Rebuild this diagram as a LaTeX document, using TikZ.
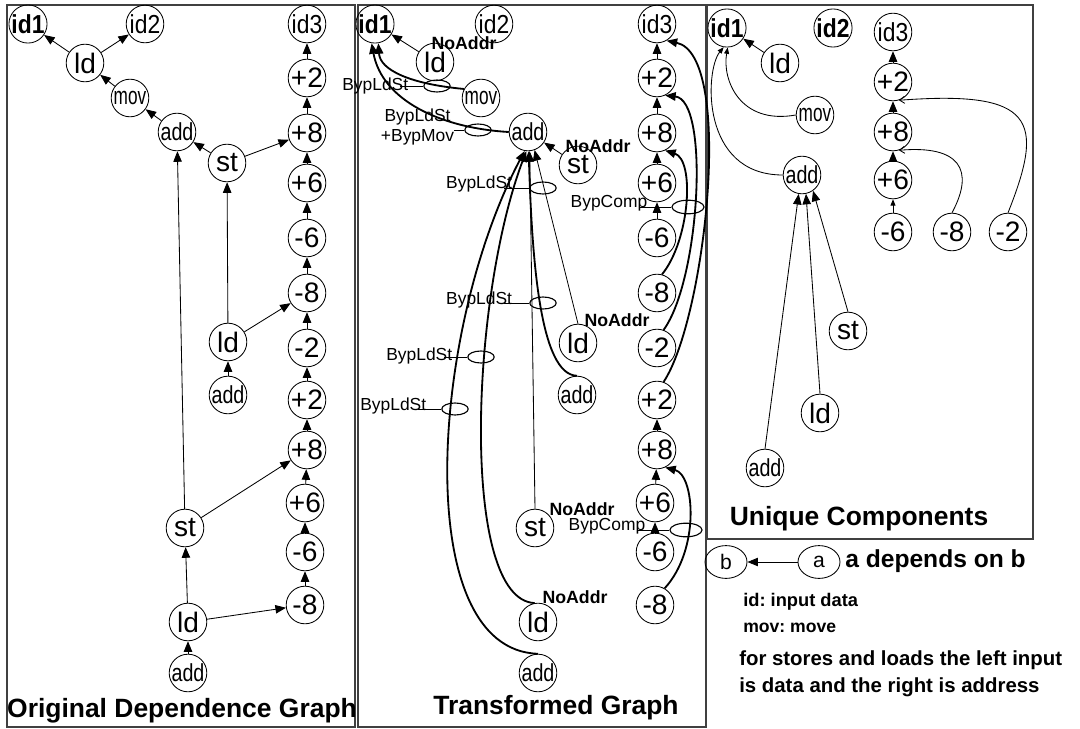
\documentclass[tikz,border=0pt]{standalone}
\usepackage{fontspec}
\setmainfont{Liberation Sans}
\newfontfamily\idfont[FakeStretch=0.88]{Liberation Sans}
\newfontfamily\narrowfont[FakeStretch=0.8]{Liberation Sans}
\newfontfamily\narrowerfont[FakeStretch=0.7]{Liberation Sans}
\usetikzlibrary{arrows.meta,positioning,shapes.geometric}
\frenchspacing

\begin{document}
\begin{tikzpicture}[
    x=0.025cm, y=-0.025cm,
    frame/.style={draw=black!75, line width=0.9pt},
    operation/.style={circle, draw, line width=0.6pt, minimum size=0.94cm, inner sep=0pt, font=\fontsize{20}{20}\selectfont},
    input/.style={operation, font=\idfont\fontsize{18.5}{18.5}\selectfont},
    addop/.style={operation, font=\narrowfont\fontsize{17.5}{17.5}\selectfont},
    movop/.style={operation, font=\narrowerfont\fontsize{17.5}{17.5}\selectfont},
    bypass/.style={ellipse, draw, line width=0.8pt, minimum width=0.66cm, minimum height=0.3cm, inner sep=0pt},
    compbypass/.style={bypass, minimum width=0.8cm, minimum height=0.34cm},
    byplabel/.style={font=\fontsize{12.4}{14}\selectfont, inner sep=0pt, align=center},
    noaddr/.style={font=\bfseries\fontsize{12.6}{13}\selectfont, inner sep=0pt},
    caption/.style={font=\bfseries\fontsize{18.8}{20}\selectfont, inner sep=0pt, anchor=base},
    note/.style={font=\bfseries\fontsize{14.5}{16}\selectfont, inner sep=0pt, anchor=base west},
    key/.style={ellipse, draw, line width=0.6pt, minimum width=1.05cm, minimum height=0.82cm, inner sep=0pt, font=\fontsize{15}{15}\selectfont},
    dep/.style={-{Triangle[length=7.5pt,width=6pt]}, line width=0.6pt},
    byp/.style={-{Triangle[length=7.5pt,width=6pt]}, line width=1.3pt},
    smalldep/.style={-{Triangle[length=4.5pt,width=3.5pt]}, line width=0.6pt},
    barb/.style={-{Straight Barb[length=3.5pt,width=5pt]}, line width=0.6pt}
]
    \useasboundingbox[fill=white] (0,0) rectangle (1080,729);

    % panels
    \draw[frame] (7,5) rectangle (355,727);
    \draw[frame] (358,5) rectangle (706,727);
    \draw[frame] (707,5) rectangle (1033,539);

    % original dependence graph
    \node[input] (oid1) at (28,24) {\textbf{id1}};
    \node[input] (oid2) at (145,24) {id2};
    \node[input] (oid3) at (307,24) {id3};
    \node[operation] (old) at (85,63) {ld};
    \node[movop] (omov) at (130,98) {mov};
    \node[addop] (oadd) at (177,132) {add};
    \node[operation] (ost) at (227,163) {st};
    \node[operation] (oldb) at (228,342) {ld};
    \node[addop] (oaddb) at (228,395) {add};
    \node[operation] (ostc) at (185,528) {st};
    \node[operation] (oldc) at (188,622) {ld};
    \node[addop] (oaddc) at (188,673) {add};
    \foreach \name/\val/\x/\y in {op2a/+2/307/78, op8a/+8/307/133, op6a/+6/307/183,
        om6a/-6/307/238, om8a/-8/307/293, om2/-2/307/348, op2b/+2/307/400,
        op8b/+8/307/450, op6b/+6/305/503, om6b/-6/305/552, om8b/-8/305/605}
        \node[operation] (\name) at (\x,\y) {\val};

    \foreach \a/\b in {old/oid1, old/oid2, omov/old, oadd/omov, ost/oadd, ost/op8a,
        oldb/ost, oldb/om8a, oaddb/oldb, ostc/oadd, ostc/op8b, oldc/ostc, oldc/om8b,
        oaddc/oldc, op2a/oid3, op8a/op2a, op6a/op8a, om6a/op6a, om8a/om6a, om2/om8a,
        op2b/om2, op8b/op2b, op6b/op8b, om6b/op6b, om8b/om6b}
        \draw[dep] (\a) -- (\b);

    \node[caption] (capo) at (182,717) {Original Dependence Graph};

    % transformed graph
    \node[input] (tid1) at (375,24) {\textbf{id1}};
    \node[input] (tid2) at (494,24) {id2};
    \node[input] (tid3) at (657,24) {id3};
    \node[operation] (tld) at (435,62) {ld};
    \node[movop] (tmov) at (481,98) {mov};
    \node[addop] (tadd) at (528,132) {add};
    \node[operation] (tst) at (578,165) {st};
    \node[operation] (tldb) at (578,343) {ld};
    \node[addop] (taddb) at (577,395) {add};
    \node[operation] (tstc) at (535,528) {st};
    \node[operation] (tldc) at (538,622) {ld};
    \node[addop] (taddc) at (538,673) {add};
    \foreach \name/\val/\x/\y in {tp2a/+2/657/78, tp8a/+8/657/133, tp6a/+6/657/183,
        tm6a/-6/657/238, tm8a/-8/657/293, tm2/-2/657/348, tp2b/+2/657/400,
        tp8b/+8/657/450, tp6b/+6/655/503, tm6b/-6/655/552, tm8b/-8/655/605}
        \node[operation] (\name) at (\x,\y) {\val};

    \node[noaddr] (na1) at (464,43) {NoAddr};
    \node[noaddr] (na2) at (598,146) {NoAddr};
    \node[noaddr] (na3) at (617,320) {NoAddr};
    \node[noaddr] (na4) at (582,509) {NoAddr};
    \node[noaddr] (na5) at (575,597) {NoAddr};

    \foreach \a/\b in {tld/tid1, tst/tadd, tp2a/tid3, tp8a/tp2a, tp6a/tp8a, tm6a/tp6a,
        tp8b/tp2b, tp6b/tp8b, tm6b/tp6b}
        \draw[dep] (\a) -- (\b);

    % bypassed edges
    \draw[byp] (tmov.152) .. controls (410,84) and (380,70) .. (tid1.-80);
    \draw[byp] (tadd.west) .. controls (440,128) and (382,100) .. (tid1.-100);
    \draw[byp] (taddc.north) .. controls (410,650) and (430,330) .. (tadd.-100);
    \draw[byp] (tldc.100) .. controls (460,600) and (470,300) .. (tadd.-95);
    \draw[byp] (taddb.north) .. controls (540,375) and (532,260) .. (tadd.-88);
    \draw[dep] (tstc.north) -- (tadd.-85);
    \draw[dep] (tldb.north) -- (tadd.-70);
    \draw[byp] (tp2b.70) .. controls (705,320) and (735,55) .. (tid3.-60);
    \draw[byp] (tm2.70) .. controls (700,280) and (710,100) .. (tp2a.-65);
    \draw[byp] (tm8a.75) .. controls (690,240) and (695,160) .. (tp8a.-65);
    \draw[byp] (tm8b.60) .. controls (700,550) and (695,475) .. (tp8b.-65);

    \node[bypass] (b1) at (437,86) {};
    \node[bypass] (b2) at (478,130) {};
    \node[bypass] (b3) at (543,188) {};
    \node[bypass] (b4) at (543,303) {};
    \node[bypass] (b5) at (481,357) {};
    \node[bypass] (b6) at (455,409) {};
    \node[compbypass] (c1) at (688,207) {};
    \node[compbypass] (c2) at (686,530) {};

    \node[byplabel, left=10.5pt of b1] (l1) {BypLdSt};
    \node[byplabel, left=7pt of b2, yshift=2pt] (l2) {BypLdSt\\+BypMov};
    \node[byplabel, left=12pt of b3, yshift=3pt] (l3) {BypLdSt};
    \node[byplabel, left=12pt of b4, yshift=2pt] (l4) {BypLdSt};
    \node[byplabel, left=10.5pt of b5, yshift=1pt] (l5) {BypLdSt};
    \node[byplabel, left=10.5pt of b6, yshift=2pt] (l6) {BypLdSt};
    \node[byplabel, left=17pt of c1, yshift=3pt] (k1) {BypComp};
    \node[byplabel, left=17pt of c2, yshift=3pt] (k2) {BypComp};
    \foreach \l/\b in {l1/b1, l3/b3, l4/b4, l5/b5, l6/b6, k1/c1, k2/c2}
        \draw[line width=0.6pt] ([xshift=-6pt]\l.east |- \b.west) -- (\b.west);
    \draw[line width=0.6pt] (l2.east |- b2.west) -- (b2.west);

    \node[caption] (capt) at (556,714) {Transformed Graph};

    % unique components
    \node[input] (uid1) at (727,28) {\textbf{id1}};
    \node[input] (uid2) at (833,28) {\textbf{id2}};
    \node[input] (uid3) at (893,32) {id3};
    \node[operation] (uld) at (780,63) {ld};
    \node[movop] (umov) at (815,115) {mov};
    \node[addop] (uadd) at (802,175) {add};
    \node[operation] (up2) at (893,82) {+2};
    \node[operation] (up8) at (893,132) {+8};
    \node[operation] (up6) at (893,180) {+6};
    \node[operation] (um6) at (893,232) {-6};
    \node[operation] (um8) at (952,232) {-8};
    \node[operation] (um2) at (1008,232) {-2};
    \node[operation] (ust) at (848,331) {st};
    \node[operation] (uldb) at (820,413) {ld};
    \node[addop] (uaddb) at (765,468) {add};

    \foreach \a/\b in {uld/uid1, up2/uid3, up8/up2, up6/up8}
        \draw[dep] (\a) -- (\b);
    \draw[smalldep] (um6) -- (up6);
    \draw[smalldep] (umov.west) .. controls (740,125) and (722,80) .. (uid1.-88);
    \draw[smalldep] (uadd.west) .. controls (700,175) and (705,70) .. (uid1.-100);
    \draw[dep] (uaddb.north) -- (uadd.-100);
    \draw[dep] (uldb.north) -- (uadd.-78);
    \draw[dep] (ust.north) -- (uadd.-55);
    \draw[barb] (um8.north) .. controls (975,170) and (960,145) .. (up8.-72);
    \draw[barb] (um2.north) .. controls (1045,120) and (1035,90) .. (up2.-72);

    \node[caption] (capu) at (859,525) {Unique Components};

    % legend
    \node[key] (kb) at (726,562) {b};
    \node[key] (ka) at (819,562) {a};
    \draw[dep] (ka) -- (kb);
    \node[note, font=\bfseries\fontsize{17.5}{18}\selectfont] (kdep) at (845,567) {a depends on b};
    \node[note, font=\bfseries\fontsize{13}{14}\selectfont] (kid) at (743,606) {id: input data};
    \node[note, font=\bfseries\fontsize{12.5}{14}\selectfont] (kmov) at (743,632) {mov: move};
    \node[note] (kst1) at (739,665) {for stores and loads the left input};
    \node[note] (kst2) at (739,692) {is data and the right is address};
\end{tikzpicture}
\end{document}
